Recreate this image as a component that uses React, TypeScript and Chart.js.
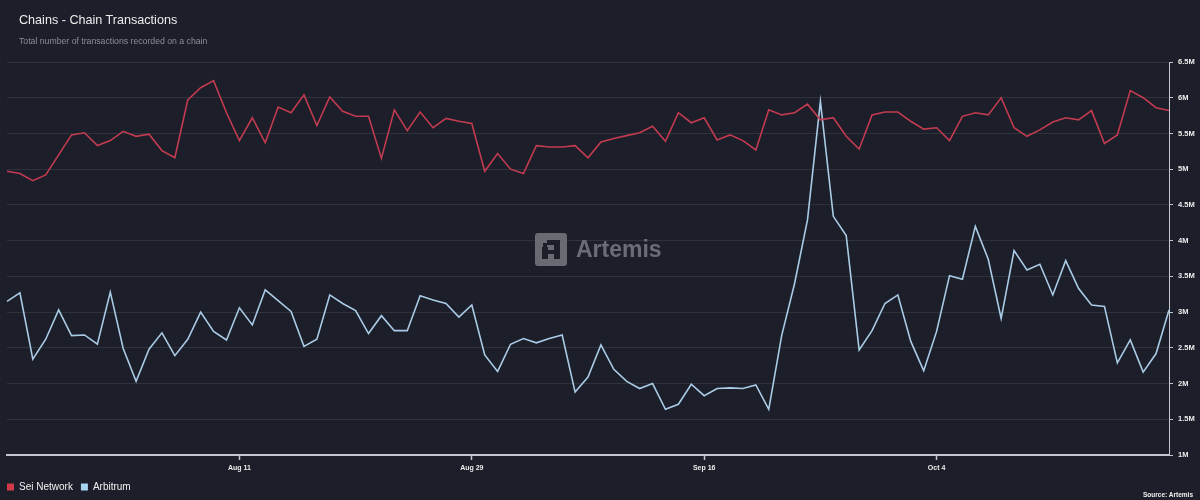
import React, { useEffect, useRef } from 'react';
import { Chart, registerables } from 'chart.js';

Chart.register(...registerables);

// ---- data (values in millions of transactions per day) ----
const START_YEAR = 2024;
const START_MONTH = 6; // July (0-based)
const START_DAY = 24;
const DAY_COUNT = 91;
const MONTH_NAMES = ['Jan', 'Feb', 'Mar', 'Apr', 'May', 'Jun', 'Jul', 'Aug', 'Sep', 'Oct', 'Nov', 'Dec'];
const SHOWN_X_LABELS = ['Aug 11', 'Aug 29', 'Sep 16', 'Oct 4'];

const SEI_NETWORK = [
  4.97, 4.94, 4.84, 4.92, 5.2, 5.48, 5.51, 5.33, 5.4, 5.53,
  5.46, 5.49, 5.26, 5.16, 5.97, 6.14, 6.24, 5.79, 5.4, 5.72,
  5.37, 5.87, 5.79, 6.04, 5.61, 6.01, 5.81, 5.74, 5.74, 5.15,
  5.83, 5.54, 5.8, 5.58, 5.71, 5.67, 5.64, 4.97, 5.22, 5.0,
  4.94, 5.33, 5.31, 5.31, 5.33, 5.16, 5.38, 5.43, 5.47, 5.51,
  5.6, 5.39, 5.79, 5.65, 5.72, 5.41, 5.48, 5.4, 5.27, 5.83,
  5.76, 5.79, 5.91, 5.69, 5.72, 5.46, 5.28, 5.76, 5.8, 5.8,
  5.67, 5.56, 5.58, 5.4, 5.74, 5.79, 5.76, 6.0, 5.58, 5.46,
  5.55, 5.66, 5.72, 5.69, 5.82, 5.36, 5.48, 6.1, 6.0, 5.86,
  5.82,
];

const ARBITRUM = [
  3.15, 3.27, 2.34, 2.62, 3.03, 2.67, 2.68, 2.55, 3.28, 2.49,
  2.03, 2.48, 2.71, 2.39, 2.62, 3.0, 2.73, 2.61, 3.06, 2.82,
  3.31, 3.16, 3.01, 2.52, 2.62, 3.24, 3.12, 3.02, 2.7, 2.95,
  2.74, 2.74, 3.23, 3.17, 3.12, 2.93, 3.1, 2.4, 2.17, 2.55,
  2.63, 2.57, 2.63, 2.68, 1.88, 2.09, 2.54, 2.2, 2.03, 1.93,
  2.0, 1.64, 1.71, 1.99, 1.83, 1.93, 1.94, 1.93, 1.98, 1.64,
  2.67, 3.4, 4.29, 5.95, 4.34, 4.07, 2.47, 2.74, 3.12, 3.24,
  2.59, 2.18, 2.73, 3.51, 3.46, 4.2, 3.74, 2.91, 3.86, 3.59,
  3.67, 3.24, 3.72, 3.33, 3.1, 3.08, 2.29, 2.61, 2.16, 2.42,
  3.03,
];

const Y_MIN = 1;
const Y_MAX = 6.5;
const Y_STEP = 0.5;

const SERIES_NAMES = ['Sei Network', 'Arbitrum'];

function buildDateLabels(): string[] {
  const out: string[] = [];
  for (let i = 0; i < DAY_COUNT; i++) {
    const d = new Date(Date.UTC(START_YEAR, START_MONTH, START_DAY + i));
    out.push(`${MONTH_NAMES[d.getUTCMonth()]} ${d.getUTCDate()}`);
  }
  return out;
}

const BG = '#1c1e29';
const RED_LINE = '#c23b50';
const BLUE_LINE = '#a9cbe6';
const RED_KEY = '#d03a4b';
const BLUE_KEY = '#a6d6f2';
const AXIS = '#c5c7cf';
const FONT = "'Liberation Sans', Arial, sans-serif";

// shifts the bottom legend so its first key sits at the page's left margin
const legendShift = {
  id: 'legendShift',
  afterLayout(chart: any) {
    const lg = chart.legend;
    if (!lg) return;
    lg.left = -1;
    lg.top += 2;
    lg.bottom += 2;
  },
};

export default function App() {
  const canvasRef = useRef<HTMLCanvasElement | null>(null);

  useEffect(() => {
    if (!canvasRef.current) return;
    const labels = buildDateLabels();
    const keyColors = [RED_KEY, BLUE_KEY];
    const chart = new Chart(canvasRef.current, {
      type: 'line',
      data: {
        labels,
        datasets: [
          {
            label: SERIES_NAMES[0],
            data: SEI_NETWORK,
            borderColor: RED_LINE,
            backgroundColor: RED_KEY,
            borderWidth: 1.6,
            pointRadius: 0,
            tension: 0,
          },
          {
            label: SERIES_NAMES[1],
            data: ARBITRUM,
            borderColor: BLUE_LINE,
            backgroundColor: BLUE_KEY,
            borderWidth: 1.6,
            pointRadius: 0,
            tension: 0,
          },
        ],
      },
      plugins: [legendShift],
      options: {
        animation: false,
        responsive: true,
        maintainAspectRatio: false,
        layout: { padding: { left: 7, right: 0, top: 62, bottom: 0 } },
        plugins: {
          title: { display: false },
          tooltip: { enabled: false },
          legend: {
            display: true,
            position: 'bottom',
            align: 'start',
            labels: {
              boxWidth: 7,
              boxHeight: 7,
              padding: 8,
              color: '#f2f2f2',
              font: { family: FONT, size: 10 },
              generateLabels: (c: any) =>
                c.data.datasets.map((ds: any, i: number) => ({
                  text: ds.label,
                  fillStyle: keyColors[i],
                  strokeStyle: keyColors[i],
                  lineWidth: 0,
                  hidden: false,
                  datasetIndex: i,
                  fontColor: '#f2f2f2',
                })),
            },
          },
        },
        scales: {
          x: {
            type: 'category',
            offset: false,
            afterBuildTicks: (scale: any) => {
              scale.ticks = scale.ticks.filter((t: any) =>
                SHOWN_X_LABELS.includes(labels[t.value])
              );
            },
            afterFit: (scale: any) => {
              scale.height = 17;
            },
            ticks: {
              autoSkip: false,
              maxRotation: 0,
              color: '#ececec',
              padding: 4,
              font: { family: FONT, size: 7, weight: 'bold' },
              callback: function (this: any, value: any) {
                return this.getLabelForValue(value);
              },
            },
            grid: {
              drawOnChartArea: false,
              drawTicks: true,
              tickLength: 5,
              tickColor: AXIS,
              tickWidth: 1.5,
            },
            border: { display: true, color: AXIS, width: 2 },
          },
          y: {
            position: 'right',
            min: Y_MIN,
            max: Y_MAX,
            afterFit: (scale: any) => {
              scale.width = 31;
            },
            ticks: {
              stepSize: Y_STEP,
              color: '#ececec',
              padding: 5,
              font: { family: FONT, size: 7.5, weight: 'bold' },
              callback: (v: any) => `${v}M`,
            },
            grid: {
              color: 'rgba(255,255,255,0.085)',
              lineWidth: 1,
              drawTicks: true,
              tickLength: 4,
              tickColor: AXIS,
            },
            border: { display: true, color: AXIS, width: 1 },
          },
        },
      },
    });
    return () => chart.destroy();
  }, []);

  return (
    <div
      style={{
        position: 'absolute',
        left: 0,
        top: 0,
        width: 1200,
        height: 500,
        background: BG,
        overflow: 'hidden',
        fontFamily: FONT,
      }}
    >
      <div style={{ position: 'absolute', left: 0, top: 0, width: 1200, height: 500 }}>
        <canvas ref={canvasRef} />
      </div>
      <div
        style={{
          position: 'absolute',
          left: 19,
          top: 13,
          fontSize: 12.6,
          color: '#ededed',
          whiteSpace: 'nowrap',
        }}
      >
        Chains - Chain Transactions
      </div>
      <div
        style={{
          position: 'absolute',
          left: 19,
          top: 36,
          fontSize: 8.7,
          color: '#8b8e99',
          whiteSpace: 'nowrap',
        }}
      >
        Total number of transactions recorded on a chain
      </div>
      <div
        style={{
          position: 'absolute',
          left: 535,
          top: 233,
          display: 'flex',
          alignItems: 'center',
          pointerEvents: 'none',
        }}
      >
        <svg width="32" height="33" viewBox="0 0 32 33">
          <rect x="0" y="0" width="32" height="33" rx="3" fill="#696b73" />
          <rect x="12" y="7" width="13" height="5" fill="#1c1e29" />
          <rect x="19" y="7" width="6" height="19" fill="#1c1e29" />
          <rect x="7" y="14" width="6" height="12" fill="#1c1e29" />
          <rect x="12" y="17" width="8" height="4" fill="#1c1e29" />
          <rect x="8" y="10" width="4" height="4" fill="#1c1e29" />
        </svg>
        <span
          style={{
            marginLeft: 9,
            fontSize: 23,
            fontWeight: 'bold',
            color: '#6b6d75',
            lineHeight: '33px',
          }}
        >
          Artemis
        </span>
      </div>
      <div
        style={{
          position: 'absolute',
          right: 7,
          top: 491,
          fontSize: 6.5,
          fontWeight: 'bold',
          color: '#f0f0f0',
          whiteSpace: 'nowrap',
        }}
      >
        Source: Artemis
      </div>
    </div>
  );
}
